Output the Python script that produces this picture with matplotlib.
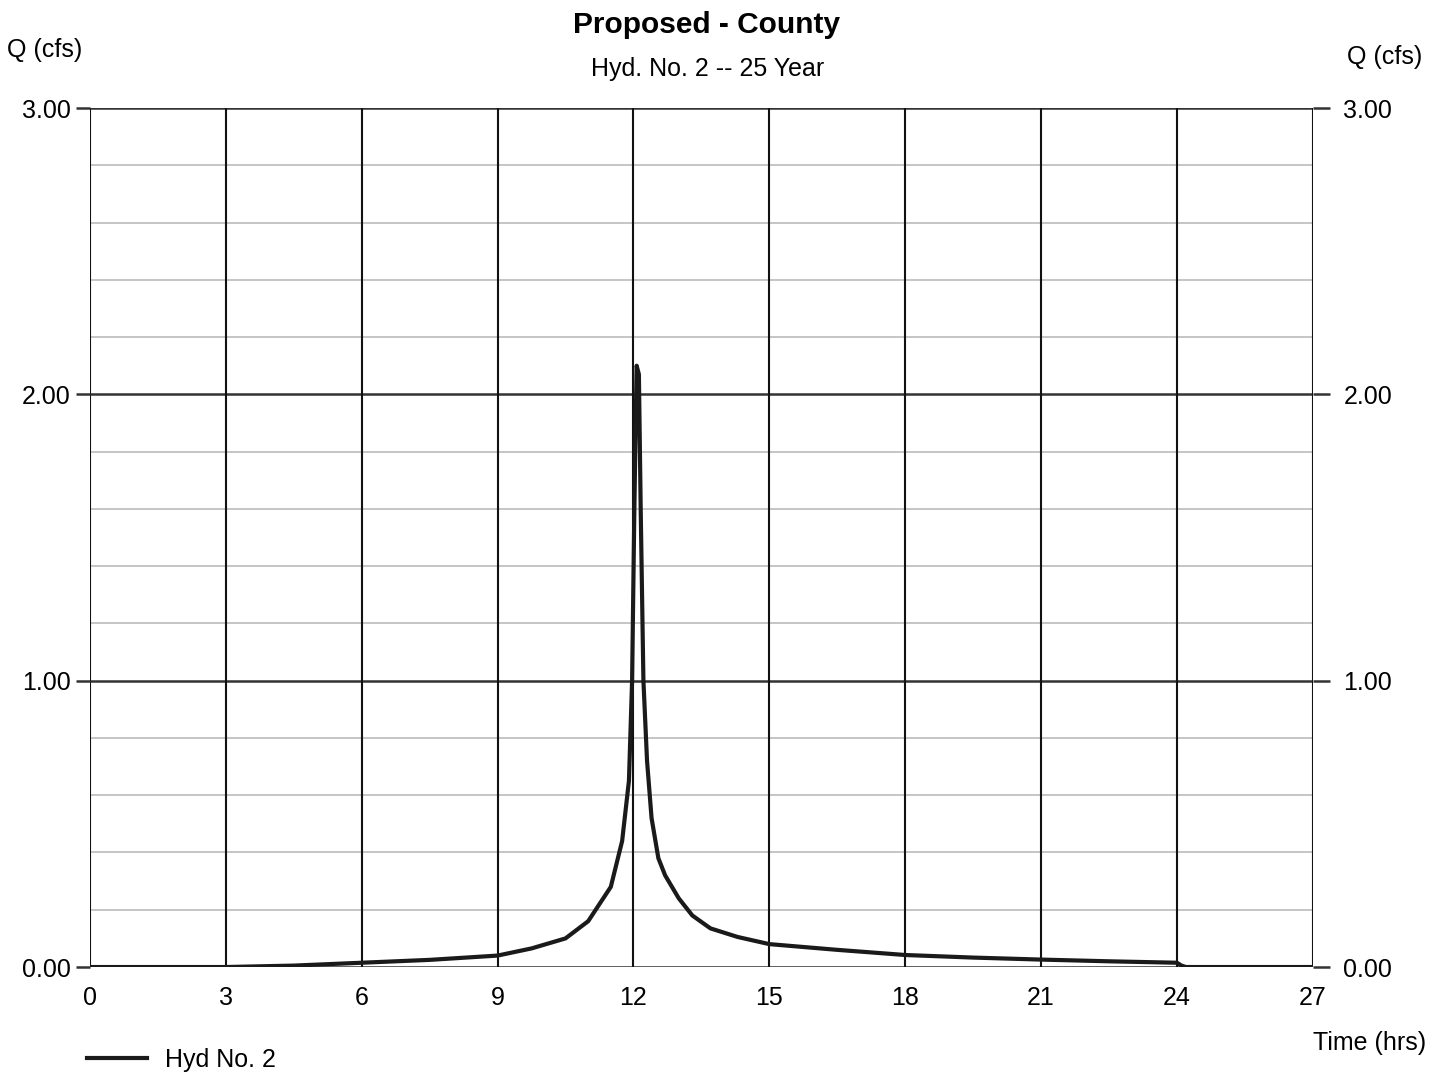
import matplotlib
matplotlib.use("Agg")
import matplotlib.pyplot as plt
import numpy as np

plt.rcParams['font.family'] = ['Liberation Sans', 'DejaVu Sans']

time_hrs = [0, 3, 4.5, 6, 7.5, 9, 9.75, 10.5, 11.0, 11.5, 11.75, 11.9, 11.97, 12.02, 12.07, 12.12, 12.16, 12.22, 12.3, 12.4, 12.55, 12.7, 13.0, 13.3, 13.7, 14.3, 15, 16.5, 18, 19.5, 21, 22.5, 24.0, 24.1, 24.2, 27]
flow_cfs = [0.0, 0.0, 0.005, 0.015, 0.025, 0.04, 0.065, 0.10, 0.16, 0.28, 0.44, 0.65, 1.0, 1.6, 2.10, 2.07, 1.6, 1.0, 0.72, 0.52, 0.38, 0.32, 0.24, 0.18, 0.135, 0.105, 0.08, 0.06, 0.042, 0.033, 0.026, 0.02, 0.015, 0.005, 0.0, 0.0]

x_ticks = [0, 3, 6, 9, 12, 15, 18, 21, 24, 27]
y_ticks = [0.0, 1.0, 2.0, 3.0]
y_minor = [0.2, 0.4, 0.6, 0.8, 1.2, 1.4, 1.6, 1.8, 2.2, 2.4, 2.6, 2.8]

fig = plt.figure(figsize=(14.42, 10.74), dpi=100)
ax = fig.add_axes([0.0624, 0.0996, 0.848, 0.7998])
ax.set_xlim(0, 27)
ax.set_ylim(0, 3)

for v in y_minor:
    ax.axhline(v, color='#b5b5b5', lw=1.1, zorder=1)
for v in y_ticks:
    ax.axhline(v, color='#333333', lw=1.8, zorder=1)
for v in x_ticks:
    ax.axvline(v, color='#111111', lw=1.5, zorder=1)

ax.plot(time_hrs, flow_cfs, color='#1a1a1a', lw=3.0, zorder=3, label='Hyd No. 2')

for s in ax.spines.values():
    s.set_visible(False)

ax.set_xticks(x_ticks)
ax.set_xticklabels([str(t) for t in x_ticks])
ax.set_yticks(y_ticks)
ax.set_yticklabels(['%.2f' % t for t in y_ticks])
ax.tick_params(axis='y', length=10, width=1.8, color='#333333', labelsize=18, pad=4)
ax.tick_params(axis='x', length=0, labelsize=18, pad=14)

ax2 = ax.twinx()
ax2.set_ylim(0, 3)
ax2.set_yticks(y_ticks)
ax2.set_yticklabels(['%.2f' % t for t in y_ticks])
ax2.tick_params(axis='y', length=12, width=1.8, color='#333333', labelsize=18, pad=10)
for s in ax2.spines.values():
    s.set_visible(False)

fig.text(0.490, 0.977, 'Proposed - County', ha='center', va='center', fontsize=21.5, fontweight='bold')
fig.text(0.491, 0.936, 'Hyd. No. 2 -- 25 Year', ha='center', va='center', fontsize=18)
fig.text(0.005, 0.953, 'Q (cfs)', ha='left', va='center', fontsize=18)
fig.text(0.986, 0.947, 'Q (cfs)', ha='right', va='center', fontsize=18)
fig.text(0.989, 0.029, 'Time (hrs)', ha='right', va='center', fontsize=18)

leg = ax.legend(loc='center left', bbox_to_anchor=(0.0605, 0.013), bbox_transform=fig.transFigure,
                frameon=False, fontsize=18, handlelength=2.4, borderaxespad=0, borderpad=0,
                handletextpad=0.7)

fig.savefig('out.png', dpi=100, facecolor='white')
